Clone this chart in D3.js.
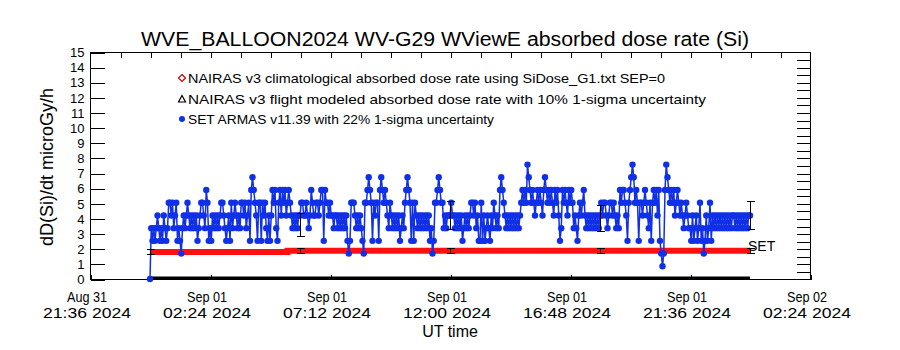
<!DOCTYPE html>
<html>
<head>
<meta charset="utf-8">
<script src="https://cdn.jsdelivr.net/npm/d3@7"></script>
<style>
  html, body { margin: 0; padding: 0; background: #fff; }
  svg { display: block; font-family: "Liberation Sans", Arial, sans-serif; }
</style>
</head>
<body>
<svg id="chart" width="900" height="350"></svg>
<script>
// ---- data ---------------------------------------------------------------
const chartTitle = "WVE_BALLOON2024 WV-G29 WViewE absorbed dose rate (Si)";
const yTitle = "dD(Si)/dt microGy/h";
const xTitle = "UT time";

const yTickValues = [0,1,2,3,4,5,6,7,8,9,10,11,12,13,14,15];
const xTickTimes = ["2024-08-31T21:36Z","2024-09-01T02:24Z","2024-09-01T07:12Z",
  "2024-09-01T12:00Z","2024-09-01T16:48Z","2024-09-01T21:36Z","2024-09-02T02:24Z"];
const xTickDays = ["Aug 31","Sep 01","Sep 01","Sep 01","Sep 01","Sep 01","Sep 02"];
const xTickClock = ["21:36 2024","02:24 2024","07:12 2024","12:00 2024","16:48 2024","21:36 2024","02:24 2024"];

const legendLabels = [
  "NAIRAS v3 climatological absorbed dose rate using SiDose_G1.txt SEP=0",
  "NAIRAS v3 flight modeled absorbed dose rate with 10% 1-sigma uncertainty",
  "SET ARMAS v11.39 with 22% 1-sigma uncertainty"
];

// SET ARMAS samples, one every 3 minutes from 2024-09-01 00:00 UT
const armasStart = "2024-09-01T00:00Z";
const armasStepMin = 3;
const armasDose = [
  0,3.36,2.52,3.36,2.52,3.36,4.2,3.36,  2.52,3.36,2.52,4.2,3.36,2.52,3.36,5.04,
  5.04,4.2,5.04,3.36,4.2,5.04,2.52,3.36,  2.52,1.68,3.36,4.2,3.36,4.2,5.04,4.2,
  3.36,4.2,3.36,4.2,3.36,4.2,2.52,3.36,  4.2,5.04,5.04,4.2,3.36,5.88,5.04,2.52,
  3.36,2.52,4.2,3.36,4.2,3.36,4.2,3.36,  4.2,5.04,5.04,4.2,3.36,2.52,3.36,4.2,
  2.52,5.04,3.36,4.2,5.04,4.2,3.36,4.2,  3.36,5.04,5.04,4.2,5.04,3.36,4.2,5.04,
  2.52,5.88,6.72,5.88,5.04,4.2,2.52,5.04,  5.04,2.52,5.04,4.2,5.04,3.36,2.52,4.2,
  2.52,4.2,5.88,5.04,5.88,3.36,2.52,5.04,  5.88,4.2,5.88,5.04,5.88,4.2,5.04,5.88,
  5.04,4.2,3.36,4.2,3.36,4.2,3.36,4.2,  4.2,5.04,5.04,4.2,4.2,5.04,4.2,3.36,
  4.2,5.88,5.04,4.2,4.2,5.04,5.04,4.2,  5.04,5.88,5.88,2.52,5.88,5.04,5.04,4.2,
  5.04,4.2,4.2,3.36,4.2,4.2,3.36,4.2,  3.36,4.2,3.36,4.2,3.36,4.2,2.52,1.68,
  2.52,5.04,5.04,5.04,4.2,3.36,4.2,3.36,  4.2,3.36,2.52,1.68,5.04,5.04,5.88,6.72,
  5.88,5.04,2.52,5.04,4.2,5.04,5.04,2.52,  5.88,6.72,5.88,5.04,5.88,5.04,4.2,3.36,
  5.04,4.2,3.36,4.2,3.36,4.2,3.36,4.2,  2.52,3.36,4.2,3.36,5.04,5.88,6.72,5.88,
  5.04,2.52,5.04,2.52,5.04,4.2,3.36,4.2,  3.36,4.2,3.36,4.2,3.36,4.2,3.36,4.2,
  2.52,3.36,1.68,2.52,5.04,5.04,5.88,6.72,  5.88,5.04,5.04,3.36,4.2,3.36,4.2,4.2,
  4.2,5.04,4.2,4.2,3.36,4.2,3.36,4.2,  3.36,4.2,2.52,3.36,4.2,3.36,4.2,3.36,
  4.2,5.04,5.04,4.2,5.04,3.36,4.2,2.52,  2.52,5.04,2.52,4.2,2.52,3.36,4.2,3.36,
  2.52,4.2,3.36,5.04,4.2,3.36,4.2,3.36,  5.88,6.72,5.88,5.04,4.2,3.36,4.2,3.36,
  4.2,3.36,4.2,3.36,4.2,3.36,4.2,3.36,  4.2,5.04,5.88,5.04,5.88,5.04,7.56,6.72,
  5.88,5.04,5.88,5.04,4.2,5.04,5.88,5.04,  5.88,5.04,4.2,5.88,6.72,5.88,5.04,5.88,
  5.04,5.88,5.04,4.2,5.88,5.04,5.88,4.2,  2.52,3.36,5.88,5.04,5.88,5.04,4.2,5.88,
  5.04,5.88,5.04,3.36,4.2,3.36,2.52,4.2,  5.04,4.2,5.04,5.88,4.2,3.36,4.2,3.36,
  4.2,3.36,4.2,3.36,4.2,3.36,4.2,3.36,  4.2,5.04,4.2,5.04,5.04,4.2,3.36,4.2,
  5.04,5.04,4.2,5.04,4.2,3.36,4.2,3.36,  5.88,5.04,5.88,5.88,5.04,4.2,2.52,5.04,
  5.88,6.72,7.56,6.72,5.04,5.88,5.04,2.52,  5.04,5.04,4.2,5.04,5.88,5.04,4.2,3.36,
  5.04,2.52,5.04,5.88,5.04,5.88,4.2,5.88,  2.52,1.68,0.84,1.68,5.88,7.56,6.72,5.88,
  5.04,5.88,5.04,5.88,4.2,5.04,5.88,5.04,  4.2,5.04,4.2,3.36,4.2,5.04,4.2,3.36,
  3.36,2.52,4.2,2.52,3.36,4.2,2.52,3.36,  5.04,2.52,3.36,1.68,2.52,4.2,2.52,3.36,
  5.04,2.52,4.2,3.36,4.2,3.36,4.2,3.36,  4.2,3.36,4.2,3.36,4.2,3.36,4.2,3.36,
  4.2,3.36,4.2,4.2,3.36,4.2,3.36,4.2,  3.36,4.2,3.36,4.2,3.36,4.2,3.36,4.2,4.2
];

// ARMAS 1-sigma bars (22%) shown every 6 hours
const armasErrTimes = ["2024-09-01T06:00Z","2024-09-01T12:00Z","2024-09-01T18:00Z","2024-09-02T00:00Z"];
const armasErrValues = [3.57, 4.20, 4.00, 4.20];
const armasErrFrac = 0.22;

// NAIRAS flight modeled dose rate
const nairasTimes = ["2024-09-01T00:00Z","2024-09-01T05:00Z","2024-09-01T05:30Z","2024-09-02T00:00Z"];
const nairasDose = [1.78, 1.78, 1.86, 1.86];
const nairasErrTimes = ["2024-09-01T00:00Z","2024-09-01T06:00Z","2024-09-01T12:00Z","2024-09-01T18:00Z","2024-09-02T00:00Z"];
const nairasErrValues = [1.80, 1.86, 1.86, 1.86, 1.86];
const nairasErrFrac = 0.10;

// NAIRAS climatological track (SEP=0) along the flight
const climTimes = ["2024-09-01T00:00Z","2024-09-02T00:00Z"];
const climDose = [0.0, 0.0];

// ---- layout -------------------------------------------------------------
const svg = d3.select("#chart");
const L = 90, R = 810, T = 52, B = 279;
const x = d3.scaleUtc()
  .domain([new Date("2024-08-31T21:36Z"), new Date("2024-09-02T02:24Z")])
  .range([L, R]);
const y = d3.scaleLinear().domain([0, 15]).range([B, T]);

const blue = "#1030e8", red = "#ff1010";

// title
svg.append("text").attr("x", 445).attr("y", 46).attr("text-anchor", "middle")
  .attr("font-size", 20).attr("textLength", 608).attr("lengthAdjust", "spacingAndGlyphs")
  .text(chartTitle);

// y axis title
svg.append("text").attr("transform", "translate(53,167) rotate(-90)")
  .attr("text-anchor", "middle").attr("font-size", 18)
  .text(yTitle);

// x axis title
svg.append("text").attr("x", 450).attr("y", 337).attr("text-anchor", "middle")
  .attr("font-size", 16).text(xTitle);

// frame
svg.append("rect").attr("x", L + 0.5).attr("y", T + 0.5)
  .attr("width", R - L).attr("height", B - T)
  .attr("fill", "none").attr("stroke", "#000").attr("stroke-width", 1);

// left axis with integer labels
const gl = svg.append("g").attr("transform", `translate(${L + 0.5},0.5)`)
  .call(d3.axisLeft(y).tickValues(yTickValues).tickSize(-14).tickPadding(6).tickFormat(d3.format("d")));
gl.select(".domain").remove();
gl.selectAll("text").attr("font-size", 13).attr("font-family", "Liberation Sans").attr("fill", "#000");
gl.selectAll("line").attr("stroke", "#000").attr("shape-rendering", "crispEdges");

// right axis: half-unit ticks
const halfTicks = d3.range(1, 30).map(k => k / 2);
const gr = svg.append("g").attr("transform", `translate(${R + 0.5},0.5)`)
  .call(d3.axisRight(y).tickValues(halfTicks).tickSize(-14).tickFormat(""));
gr.select(".domain").remove();
gr.selectAll("line").attr("stroke", "#000").attr("shape-rendering", "crispEdges");

// bottom axis: ticks plus two-line date labels
const xTicks = xTickTimes.map(s => new Date(s));
const gb = svg.append("g").attr("transform", `translate(0.5,${B + 0.5})`)
  .call(d3.axisBottom(x).tickValues(xTicks).tickSize(-5).tickFormat(""));
gb.select(".domain").remove();
gb.selectAll("line").attr("stroke", "#000").attr("shape-rendering", "crispEdges");
const gbl = svg.append("g").attr("font-size", 14).attr("text-anchor", "middle");
gbl.selectAll("text.day").data(xTicks).join("text").attr("class", "day")
  .attr("x", d => x(d) - 3).attr("y", 302)
  .attr("textLength", 40).attr("lengthAdjust", "spacingAndGlyphs")
  .text((d, i) => xTickDays[i]);
gbl.selectAll("text.clock").data(xTicks).join("text").attr("class", "clock")
  .attr("x", d => x(d) - 3).attr("y", 318)
  .attr("textLength", 88).attr("lengthAdjust", "spacingAndGlyphs")
  .text((d, i) => xTickClock[i]);

// top axis: minor ticks every 72 minutes
const topTicks = d3.range(1, 24).map(k => new Date(x.domain()[0].getTime() + k * 72 * 60000));
const gt = svg.append("g").attr("transform", `translate(0.5,${T + 0.5})`)
  .call(d3.axisTop(x).tickValues(topTicks).tickSize(-5).tickFormat(""));
gt.select(".domain").remove();
gt.selectAll("line").attr("stroke", "#000").attr("shape-rendering", "crispEdges");

// ---- series -------------------------------------------------------------
// climatological track at the floor
svg.append("path")
  .datum(climTimes.map((t, i) => [new Date(t), climDose[i]]))
  .attr("d", d3.line().x(d => x(d[0])).y(d => y(d[1]) - 1))
  .attr("stroke", "#000").attr("stroke-width", 3).attr("fill", "none");

// NAIRAS flight modeled
svg.append("path")
  .datum(nairasTimes.map((t, i) => [new Date(t), nairasDose[i]]))
  .attr("d", d3.line().x(d => x(d[0])).y(d => y(d[1])).curve(d3.curveStepAfter))
  .attr("stroke", red).attr("stroke-width", 6).attr("fill", "none");

// ARMAS series
const t0 = new Date(armasStart).getTime();
const armas = armasDose.map((v, i) => [new Date(t0 + i * armasStepMin * 60000), v]);
svg.append("path").datum(armas)
  .attr("d", d3.line().x(d => x(d[0])).y(d => y(d[1])))
  .attr("stroke", blue).attr("stroke-width", 1.5).attr("fill", "none");
svg.append("g").selectAll("circle").data(armas).join("circle")
  .attr("cx", d => x(d[0])).attr("cy", d => y(d[1])).attr("r", 3.2)
  .attr("fill", blue);

// error bars
function errorBars(times, values, frac) {
  const g = svg.append("g").attr("stroke", "#000").attr("stroke-width", 1)
    .attr("shape-rendering", "crispEdges");
  times.forEach((t, i) => {
    const cx = Math.round(x(new Date(t))) + 0.5;
    const lo = y(values[i] * (1 - frac)), hi = y(values[i] * (1 + frac));
    g.append("line").attr("x1", cx).attr("x2", cx).attr("y1", lo).attr("y2", hi);
    g.append("line").attr("x1", cx - 4).attr("x2", cx + 4).attr("y1", lo).attr("y2", lo);
    g.append("line").attr("x1", cx - 4).attr("x2", cx + 4).attr("y1", hi).attr("y2", hi);
  });
}
errorBars(nairasErrTimes, nairasErrValues, nairasErrFrac);
errorBars(armasErrTimes, armasErrValues, armasErrFrac);

// series tag
svg.append("text").attr("x", 748).attr("y", 251).attr("font-size", 14).text("SET");

// ---- legend -------------------------------------------------------------
const legY = [78, 99, 119];
const legW = [477, 518, 306];
const leg = svg.append("g");
legendLabels.forEach((s, i) => {
  leg.append("text").attr("x", 188).attr("y", legY[i] + 5).attr("font-size", 13)
    .attr("textLength", legW[i]).attr("lengthAdjust", "spacingAndGlyphs").text(s);
});
leg.append("path").attr("d", "M182,74.5 L185.5,78 L182,81.5 L178.5,78 Z")
  .attr("fill", "none").attr("stroke", "#c00").attr("stroke-width", 1.2);
leg.append("path").attr("d", "M182,95.5 L185.5,102 L178.5,102 Z")
  .attr("fill", "none").attr("stroke", "#000").attr("stroke-width", 1.2);
leg.append("circle").attr("cx", 182).attr("cy", 119).attr("r", 3).attr("fill", blue);
</script>
</body>
</html>
